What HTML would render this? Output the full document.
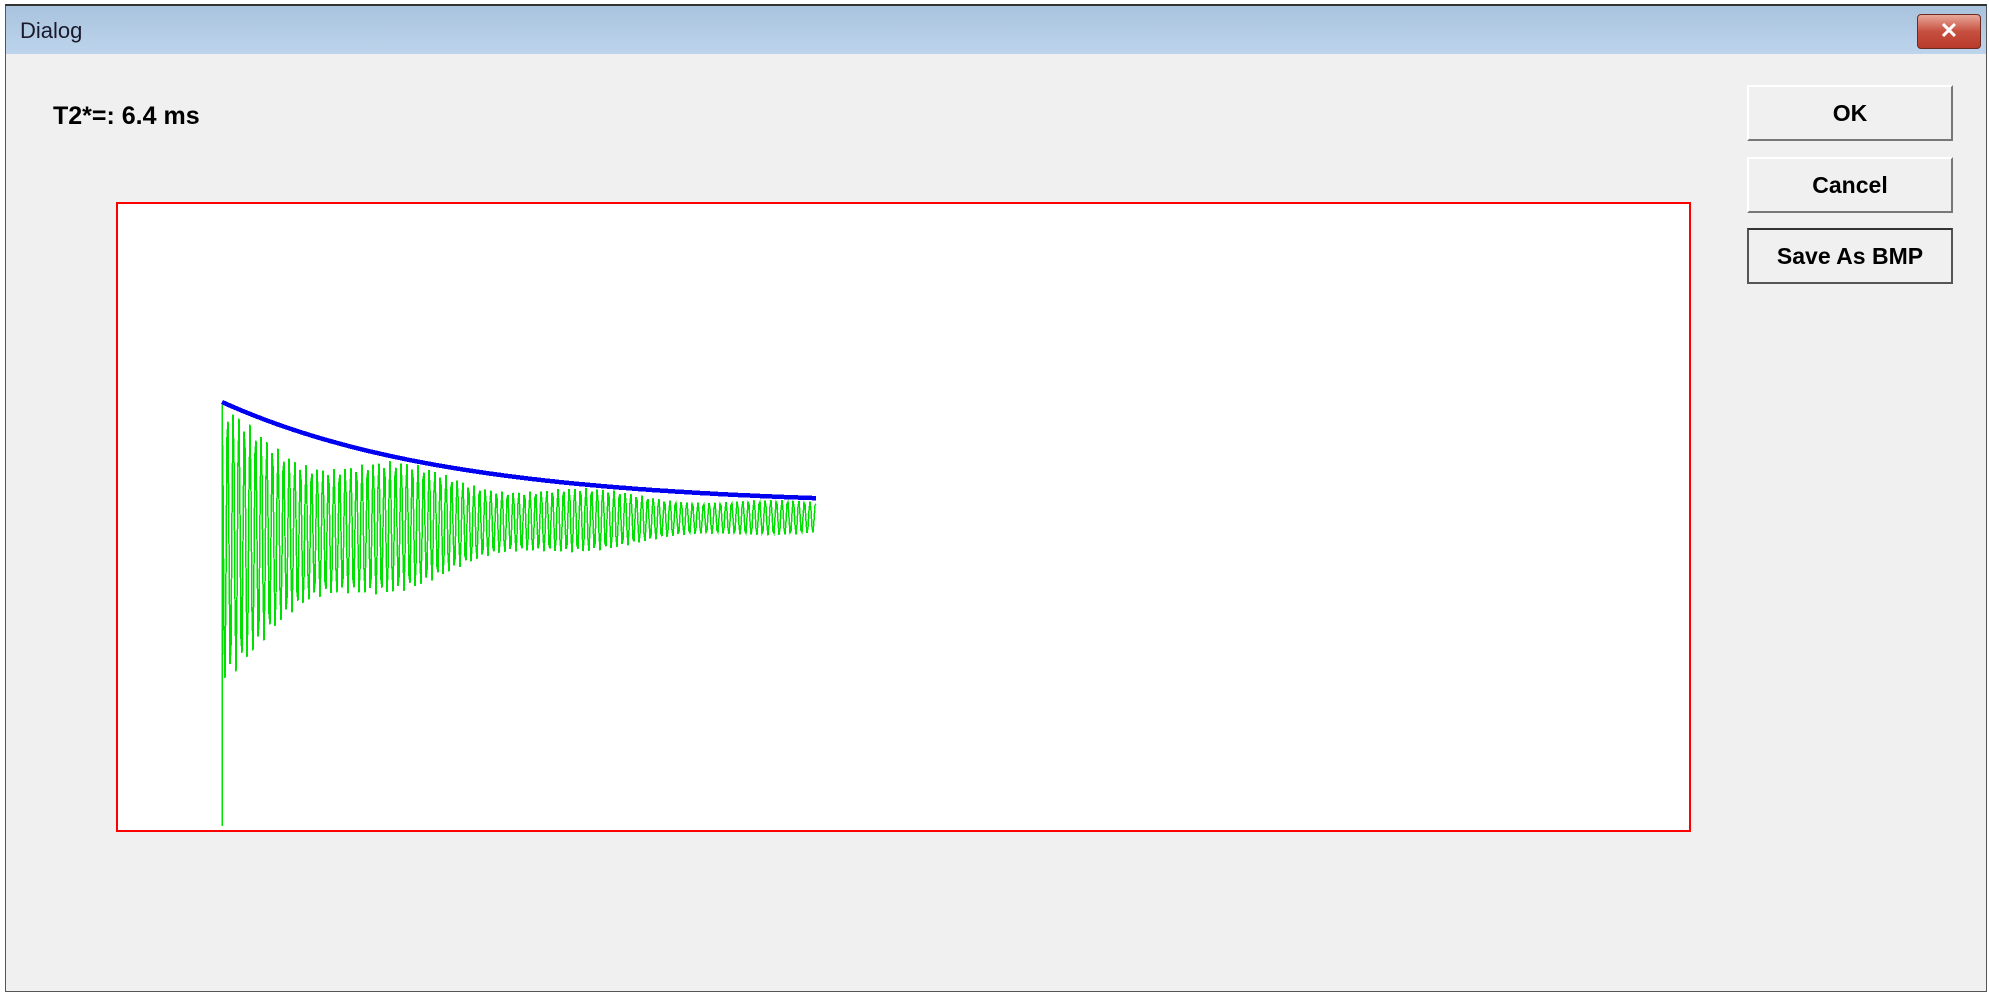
<!DOCTYPE html>
<html><head><meta charset="utf-8"><style>
html,body{margin:0;padding:0;width:1989px;height:995px;overflow:hidden;background:#fff;font-family:"Liberation Sans",sans-serif}
#win{position:absolute;left:5px;top:4px;width:1980px;height:985px;background:#f0f0f0;border:1px solid #555;border-top:2px solid #333}
#title{position:absolute;left:0;top:0;width:100%;height:48px;background:linear-gradient(#a9c3de,#bdd4ec)}
#title span{position:absolute;left:14px;top:12px;font-size:22px;color:#1a1a2a}
#close{position:absolute;left:1911px;top:8px;width:62px;height:33px;border:1px solid #6b2a22;border-radius:4px;background:linear-gradient(#e8a89a,#c75040 50%,#b83a2a);color:#fff;font:bold 22px "Liberation Sans",sans-serif;text-align:center;line-height:32px}
.btn{position:absolute;left:1741px;width:206px;height:56px;background:#f0f0f0;border-top:2px solid #fff;border-left:2px solid #fff;border-right:2px solid #777;border-bottom:2px solid #777;font:bold 23px "Liberation Sans",sans-serif;text-align:center;line-height:52px;color:#000;box-sizing:border-box}
#lbl{position:absolute;left:47px;top:96px;font:bold 25px "Liberation Sans",sans-serif;color:#000}
#plot{position:absolute;left:110px;top:196px;width:1571px;height:626px;background:#fff;border:2px solid #f00}
</style></head><body>
<div id="win">
<div id="title"><span>Dialog</span><div id="close">✕</div></div>
<div id="lbl">T2*=: 6.4 ms</div>
<div class="btn" style="top:79px">OK</div>
<div class="btn" style="top:151px">Cancel</div>
<div class="btn" style="top:222px;border:2px solid #555;border-top-color:#333">Save As BMP</div>
<div id="plot"></div>
</div>
<svg width="1989" height="995" style="position:absolute;left:0;top:0" shape-rendering="crispEdges">
<polyline id="gl" fill="none" stroke="#00e000" stroke-width="1.5" points=""/>
<polyline id="bl" fill="none" stroke="#0000f0" stroke-width="4.5" points=""/>
</svg>
<script>
(function(){
var x0=222,x1=816,g=[],b=[];
function fT(x){return 506-104*Math.exp(-(x-x0)/230);}
function fB(x){return 524+160*Math.exp(-(x-x0)/210);}
g.push(x0+","+826);g.push(x0+","+680);
for(var x=x0;x<=x1;x+=1){
 var t=fT(x)+3,bo=fB(x);var c=(t+bo)/2,a=(bo-t)/2;
 var m=0.85+0.15*Math.cos((x-x0)/30);
 var y=c-a*m*Math.cos((x-x0)*2*Math.PI/5.6);
 g.push(x+","+y.toFixed(1));
}
for(var x2=x0;x2<=x1;x2+=2){b.push(x2+","+fT(x2).toFixed(1));}
document.getElementById('gl').setAttribute('points',g.join(' '));
document.getElementById('bl').setAttribute('points',b.join(' '));
})();
</script>
</body></html>
